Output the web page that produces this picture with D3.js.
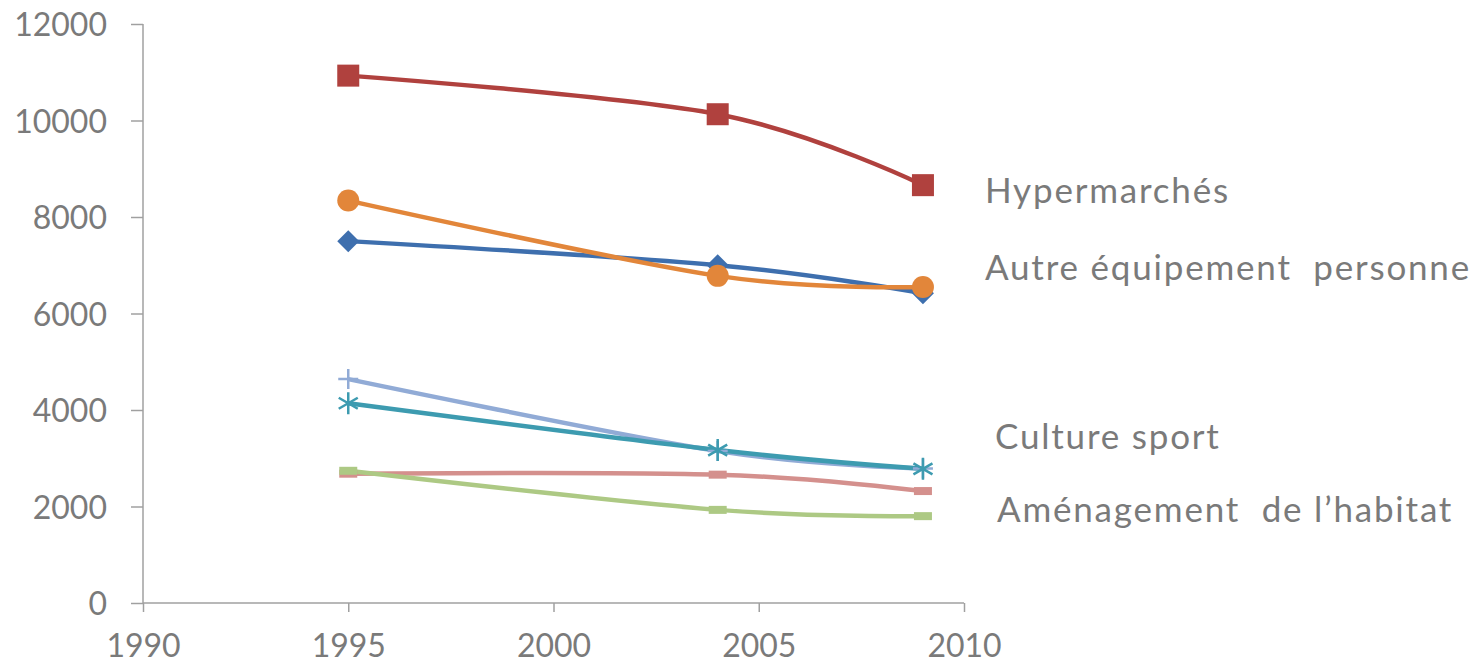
<!DOCTYPE html>
<html><head><meta charset="utf-8">
<script src="https://cdn.jsdelivr.net/npm/d3@7"></script>
<style>body{margin:0;background:#fff}svg{display:block}text{font-family:Lato,"Open Sans",sans-serif;fill:#7a7a7a}</style>
</head><body><svg id="c" width="1474" height="667"></svg>
<script>
const years = [1995, 2004, 2009];
const hypermarches = [10930, 10130, 8660];
const autreEquipement = [8340, 6780, 6550];
const seriesBlue = [7500, 7000, 6420];
const seriesLightBlue = [4640, 3150, 2790];
const cultureSport = [4140, 3170, 2780];
const seriesPink = [2680, 2660, 2320];
const amenagement = [2740, 1930, 1800];
const xTicks = [1990, 1995, 2000, 2005, 2010];
const yTicks = [0, 2000, 4000, 6000, 8000, 10000, 12000];
const labels = ["Hypermarchés", "Autre équipement  personne", "Culture sport", "Aménagement  de l’habitat"];

const svg = d3.select("#c");
const x = d3.scaleLinear().domain([1990, 2010]).range([143, 964]);
const y = d3.scaleLinear().domain([0, 12000]).range([603, 24]);
const axisCol = "#a0a0a0";

const ya = svg.append("g").attr("transform", "translate(143,0)")
  .call(d3.axisLeft(y).tickValues(yTicks).tickSize(12).tickPadding(24).tickFormat(d3.format("d")));
const xa = svg.append("g").attr("transform", "translate(0,603)")
  .call(d3.axisBottom(x).tickValues(xTicks).tickSize(9).tickPadding(22).tickFormat(d3.format("d")));
[ya, xa].forEach(a => {
  a.select(".domain").attr("stroke", axisCol).attr("stroke-width", 1.5);
  a.selectAll(".tick line").attr("stroke", axisCol).attr("stroke-width", 1.5);
  a.selectAll("text").style("font-size", "32px").attr("fill", "#7a7a7a").style("font-family", "Lato, sans-serif");
});
ya.select(".domain").attr("d", "M0,603V24");
xa.select(".domain").attr("d", "M143,0H964");
ya.selectAll(".tick text").attr("dy", "0.36em");

const series = [
  {v: seriesPink, c: "#d4908d", m: "dash"},
  {v: amenagement, c: "#adc984", m: "dash"},
  {v: seriesLightBlue, c: "#91abd6", m: "plus"},
  {v: cultureSport, c: "#3d9bb0", m: "star"},
  {v: seriesBlue, c: "#3e6fae", m: "diamond"},
  {v: autreEquipement, c: "#e2863a", m: "circle"},
  {v: hypermarches, c: "#b0413e", m: "square"}
];
const line = d3.line().x((d, i) => x(years[i])).y(d => y(d)).curve(d3.curveCardinal.tension(0));

series.forEach(s => {
  svg.append("path").attr("d", line(s.v)).attr("fill", "none").attr("stroke", s.c).attr("stroke-width", 4.5);
});
series.forEach(s => {
  const g = svg.append("g");
  s.v.forEach((d, i) => {
    const cx = x(years[i]), cy = y(d);
    if (s.m === "square") g.append("rect").attr("x", cx - 11).attr("y", cy - 11).attr("width", 22).attr("height", 22).attr("fill", s.c);
    else if (s.m === "circle") g.append("circle").attr("cx", cx).attr("cy", cy).attr("r", 11).attr("fill", s.c);
    else if (s.m === "diamond") g.append("path").attr("d", `M${cx},${cy-11}L${cx+11},${cy}L${cx},${cy+11}L${cx-11},${cy}Z`).attr("fill", s.c);
    else if (s.m === "plus") g.append("path").attr("d", `M${cx-10},${cy}H${cx+10}M${cx},${cy-10}V${cy+10}`).attr("stroke", s.c).attr("stroke-width", 2.5);
    else if (s.m === "star") {
      let p = `M${cx},${cy-11}V${cy+11}`;
      [30, 150].forEach(a => { const r = a * Math.PI / 180; p += `M${cx-11*Math.cos(r)},${cy-11*Math.sin(r)}L${cx+11*Math.cos(r)},${cy+11*Math.sin(r)}`; });
      g.append("path").attr("d", p).attr("stroke", s.c).attr("stroke-width", 2.5);
    }
    else if (s.m === "dash") g.append("rect").attr("x", cx - 9).attr("y", cy - 4).attr("width", 18).attr("height", 8).attr("fill", s.c);
  });
});

const labPos = [[985, 203], [985, 280], [995, 449], [997, 522]];
labels.forEach((t, i) => {
  svg.append("text").attr("x", labPos[i][0]).attr("y", labPos[i][1]).text(t)
    .style("font-size", "35px").style("letter-spacing", "1.8px").style("white-space", "pre");
});
</script></body></html>
